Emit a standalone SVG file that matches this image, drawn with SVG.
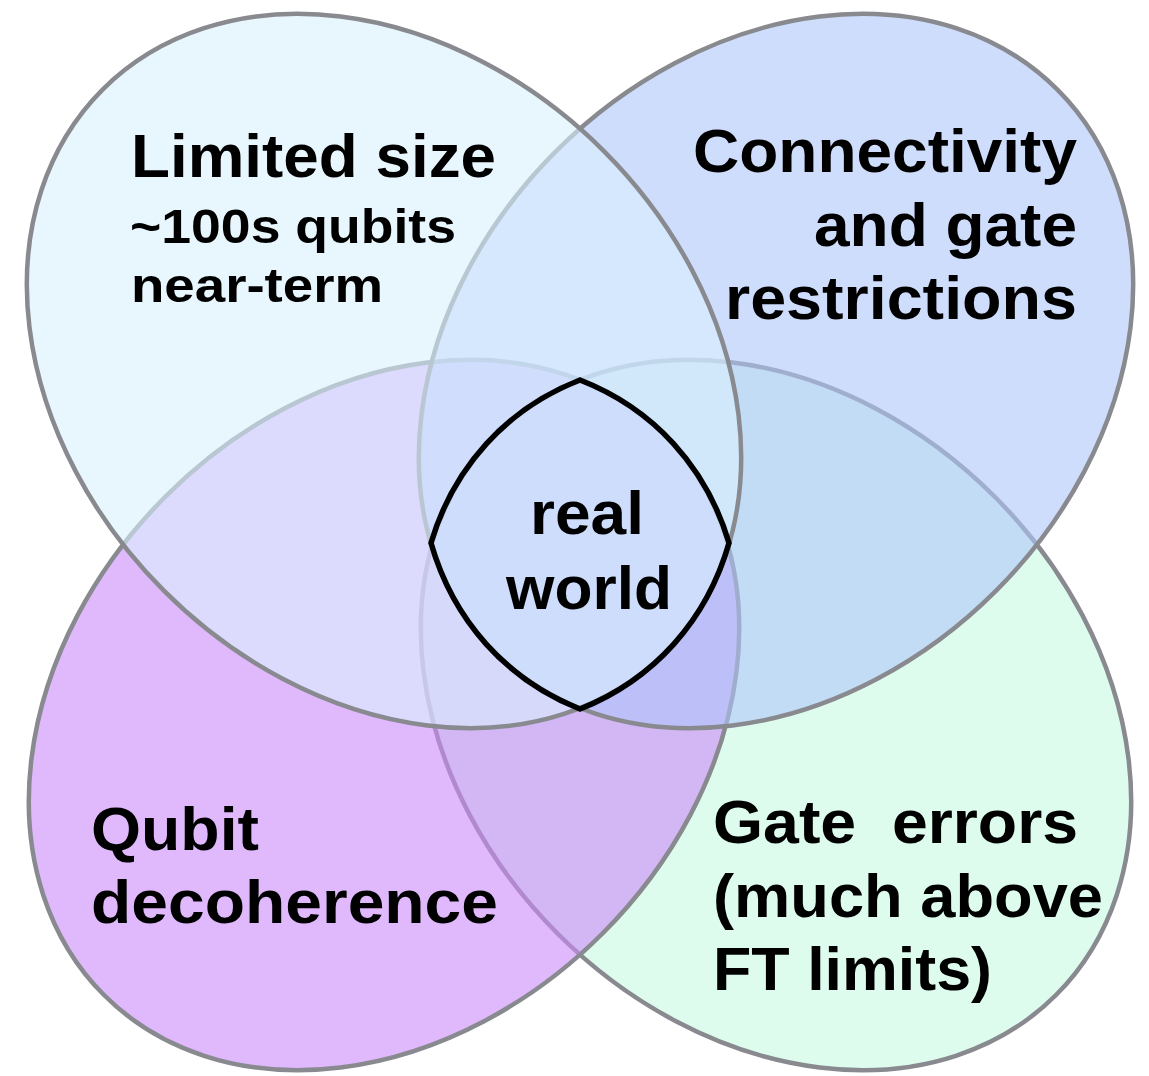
<svg xmlns="http://www.w3.org/2000/svg" xmlns:xlink="http://www.w3.org/1999/xlink" width="1149" height="1076" viewBox="0 0 1149 1076">
<style>
.set{fill-opacity:0.6;stroke:#888a8f;stroke-width:4.5}
.lab{font-family:"Liberation Sans",Arial,sans-serif;font-weight:bold;fill:#000}
.big{font-size:61px}
.small{font-size:49px}
.pre{white-space:pre}
.lens{fill:none;stroke:#000;stroke-width:5.5;stroke-linejoin:miter;stroke-miterlimit:10}
</style>
<defs>
<ellipse id="s1" cx="0" cy="0" rx="398" ry="311" transform="translate(384 371) rotate(45)"/>
<ellipse id="s2" cx="0" cy="0" rx="398" ry="311" transform="translate(776 371) rotate(-45)"/>
<ellipse id="s3" cx="0" cy="0" rx="396" ry="309" transform="translate(384 715) rotate(-45)"/>
<ellipse id="s4" cx="0" cy="0" rx="396" ry="309" transform="translate(776 715) rotate(45)"/>
</defs>
<rect width="1149" height="1076" fill="#ffffff"/>
<g id="gate-errors">
<use xlink:href="#s4" class="set" fill="#c8fae1"/>
<text class="lab big pre" x="713" y="843" textLength="365" lengthAdjust="spacingAndGlyphs">Gate  errors</text>
<text class="lab big" x="713" y="917" textLength="390" lengthAdjust="spacingAndGlyphs">(much above</text>
<text class="lab big" x="713" y="990" textLength="279" lengthAdjust="spacingAndGlyphs">FT limits)</text>
</g>
<g id="qubit-decoherence">
<use xlink:href="#s3" class="set" fill="#cb89fa"/>
<text class="lab big" x="91" y="850" textLength="168" lengthAdjust="spacingAndGlyphs">Qubit</text>
<text class="lab big" x="91" y="923" textLength="407" lengthAdjust="spacingAndGlyphs">decoherence</text>
</g>
<g id="connectivity">
<use xlink:href="#s2" class="set" fill="#afc6fa"/>
<text class="lab big" x="693" y="172" textLength="384" lengthAdjust="spacingAndGlyphs">Connectivity</text>
<text class="lab big" x="814" y="246" textLength="263" lengthAdjust="spacingAndGlyphs">and gate</text>
<text class="lab big" x="725" y="319" textLength="352" lengthAdjust="spacingAndGlyphs">restrictions</text>
</g>
<g id="limited-size">
<use xlink:href="#s1" class="set" fill="#d9f0fd"/>
<text class="lab big" x="131" y="177" textLength="365" lengthAdjust="spacingAndGlyphs">Limited size</text>
<text class="lab small" x="130" y="243" textLength="326" lengthAdjust="spacingAndGlyphs">~100s qubits</text>
<text class="lab small" x="131" y="302" textLength="252" lengthAdjust="spacingAndGlyphs">near-term</text>
</g>
<g id="real-world">
<path class="lens" d="M580 380 A396 309 45 0 0 431 543 A398 311 -45 0 0 580 709 A398 311 45 0 0 729 543 A396 309 -45 0 0 580 380 Z"/>
<text class="lab big" x="530" y="534" textLength="114" lengthAdjust="spacingAndGlyphs">real</text>
<text class="lab big" x="506" y="609" textLength="166" lengthAdjust="spacingAndGlyphs">world</text>
</g>
<g id="connectors"/>
</svg>
